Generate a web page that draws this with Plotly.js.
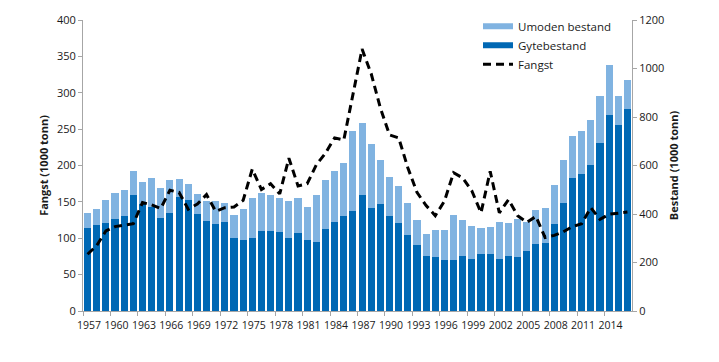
<!DOCTYPE html>
<html>
<head>
<meta charset="utf-8">
<script src="https://cdn.plot.ly/plotly-3.0.1.min.js"></script>
<style>html,body{margin:0;padding:0;background:#fff;}#chart{width:719px;height:362px;}</style>
</head>
<body>
<div id="chart"></div>
<script>
const years = [];
for (let y = 1957; y <= 2016; y++) years.push(y);

// Gytebestand (1000 tonn)
const gytebestand = [341,353,362,378,390,480,441,429,384,405,471,456,402,372,360,366,300,294,303,330,
  330,324,300,321,291,285,339,366,393,414,480,426,441,393,363,315,273,225,222,210,
  210,228,213,234,234,213,228,222,249,276,282,357,444,549,567,603,693,810,768,834];
// Umoden bestand (1000 tonn)
const umoden = [62,67,94,108,108,96,93,120,123,135,75,69,81,81,93,81,96,126,165,156,
  147,144,153,147,138,195,201,210,216,330,294,264,180,159,153,129,102,93,114,126,
  186,147,138,108,114,153,135,156,117,141,141,162,177,174,174,186,192,204,120,120];
// Fangst (1000 tonn)
const fangst = [78,90,110,116,118,120,149,146,141,166,163,140,147,160,137,142,143,152,195,167,
  175,161,210,172,175,201,217,238,235,295,360,326,279,242,238,197,163,145,131,151,
  190,183,165,135,192,135,153,131,122,130,101,104,109,116,120,142,126,133,134,136];

const labelYears = years.filter((y, i) => i % 3 === 0);
const boundaryTicks = labelYears.map(y => y - 0.5);

const darkBlue = '#0068b4';
const lightBlue = '#80b3e1';
const axisGrey = '#a6a6a6';
const txt = '#1a1a1a';
const font = 'Open Sans, Noto Sans, sans-serif';

const traces = [
  {type: 'bar', x: years, y: gytebestand, marker: {color: darkBlue}, yaxis: 'y', showlegend: false, hoverinfo: 'skip'},
  {type: 'bar', x: years, y: umoden, marker: {color: lightBlue}, yaxis: 'y', showlegend: false, hoverinfo: 'skip'},
  {type: 'scatter', mode: 'lines', x: years, y: fangst, yaxis: 'y2', line: {color: '#000', width: 3, dash: '8px,5px'}, showlegend: false},
  // legend entries
  {type: 'scatter', mode: 'lines', x: [null], y: [null], yaxis: 'y2', name: 'Umoden bestand', line: {color: lightBlue, width: 6}},
  {type: 'scatter', mode: 'lines', x: [null], y: [null], yaxis: 'y2', name: 'Gytebestand', line: {color: darkBlue, width: 6}},
  {type: 'scatter', mode: 'lines', x: [null], y: [null], yaxis: 'y2', name: 'Fangst', line: {color: '#000', width: 3, dash: '8px,5px'}}
];

const layout = {
  width: 719, height: 362,
  margin: {l: 83, r: 87, t: 18, b: 51},
  paper_bgcolor: '#fff', plot_bgcolor: '#fff',
  font: {family: font, size: 11, color: txt},
  barmode: 'stack', bargap: 0.22,
  showlegend: true,
  legend: {x: 0.7195, y: 1.028, xanchor: 'left', yanchor: 'top', bgcolor: 'rgba(0,0,0,0)',
    traceorder: 'normal',
    font: {family: font, size: 11.5, color: txt}, itemwidth: 30, tracegroupgap: 0},
  xaxis: {
    range: [years[0] - 0.5, years[years.length - 1] + 0.5],
    tickmode: 'array', tickvals: boundaryTicks, ticktext: labelYears.map(String),
    ticklabelshift: 6, tickangle: 0, ticks: 'outside', ticklen: 4, tickcolor: axisGrey,
    showline: true, linecolor: axisGrey, linewidth: 1, showgrid: false, zeroline: false,
    tickfont: {family: font, size: 10.5, color: txt}
  },
  yaxis: {
    side: 'right', range: [0, 1200], dtick: 200, ticks: 'outside', ticklen: 4, tickcolor: axisGrey,
    showline: true, linecolor: axisGrey, showgrid: false, zeroline: false,
    title: {text: '<b>Bestand (1000 tonn)</b>', font: {family: font, size: 11, color: txt}, standoff: 6},
    tickfont: {family: font, size: 11, color: txt}
  },
  yaxis2: {
    overlaying: 'y', side: 'left', range: [0, 400], dtick: 50, ticks: 'outside', ticklen: 4, tickcolor: axisGrey,
    showline: true, linecolor: axisGrey, showgrid: false, zeroline: false,
    title: {text: '<b>Fangst (1000 tonn)</b>', font: {family: font, size: 11, color: txt}, standoff: 6},
    tickfont: {family: font, size: 11, color: txt}
  }
};

Plotly.newPlot('chart', traces, layout, {displayModeBar: false, staticPlot: true});
</script>
</body>
</html>
